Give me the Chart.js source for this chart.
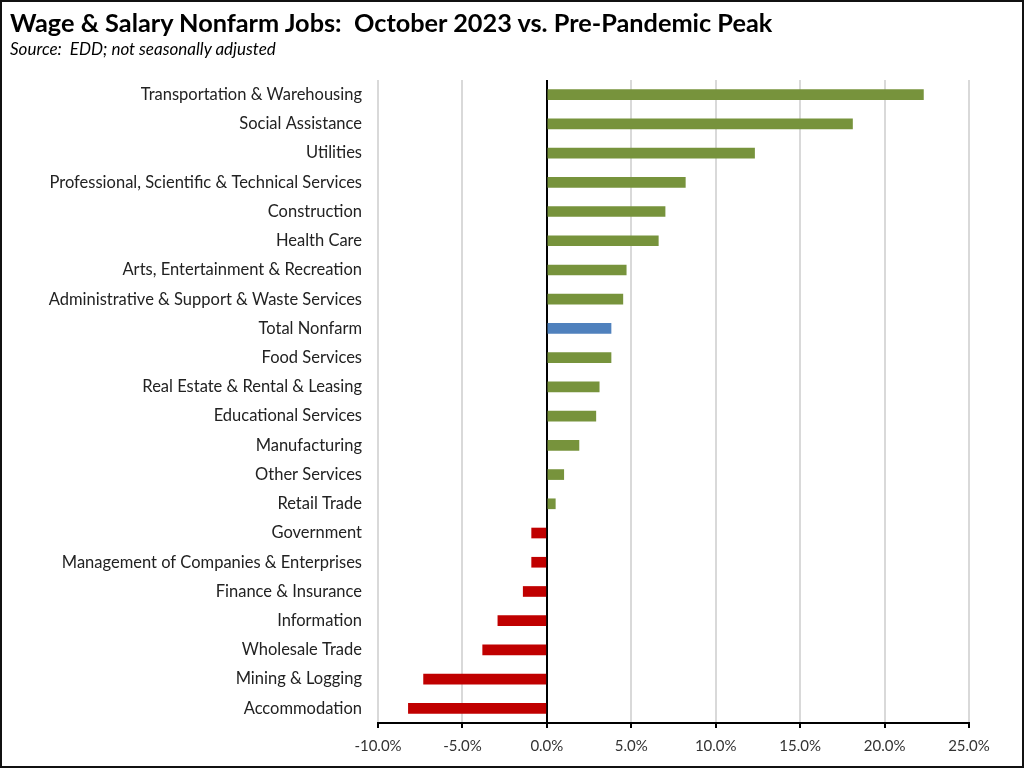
<!DOCTYPE html>
<html>
<head>
<meta charset="utf-8">
<script src="https://cdn.jsdelivr.net/npm/chart.js@4.4.0/dist/chart.umd.min.js"></script>
<style>
  html, body { margin: 0; padding: 0; background: #fff; }
  #wrap { position: relative; width: 1024px; height: 768px; overflow: hidden; }
  #frame { position: absolute; left: 0; top: 0; width: 1024px; height: 768px; box-sizing: border-box; border: 2px solid #111; pointer-events: none; }
  #title { position: absolute; left: 10px; top: 7px; font-family: Lato, sans-serif; font-weight: bold; font-size: 25.3px; color: #000; white-space: pre; }
  #subtitle { position: absolute; left: 10px; top: 38px; font-family: Lato, sans-serif; font-style: italic; font-size: 17px; color: #000; white-space: pre; }
</style>
</head>
<body>
<div id="wrap">
  <canvas id="chart" width="1024" height="768"></canvas>
  <div id="title">Wage &amp; Salary Nonfarm Jobs:  October 2023 vs. Pre-Pandemic Peak</div>
  <div id="subtitle">Source:  EDD; not seasonally adjusted</div>
  <div id="frame"></div>
</div>
<script>
// Industries, top to bottom
const categories = [
    'Transportation & Warehousing',
    'Social Assistance',
    'Utilities',
    'Professional, Scientific & Technical Services',
    'Construction',
    'Health Care',
    'Arts, Entertainment & Recreation',
    'Administrative & Support & Waste Services',
    'Total Nonfarm',
    'Food Services',
    'Real Estate & Rental & Leasing',
    'Educational Services',
    'Manufacturing',
    'Other Services',
    'Retail Trade',
    'Government',
    'Management of Companies & Enterprises',
    'Finance & Insurance',
    'Information',
    'Wholesale Trade',
    'Mining & Logging',
    'Accommodation'
];

// % change, October 2023 vs. pre-pandemic peak
const changePct = [
    22.3, 18.1, 12.3, 8.2, 7.0, 6.6, 4.7, 4.5, 3.8, 3.8, 3.1,
    2.9, 1.9, 1.0, 0.5, -0.9, -0.9, -1.4, -2.9, -3.8, -7.3, -8.2
];

// x axis tick values (percent)
const xTicks = [-10, -5, 0, 5, 10, 15, 20, 25];

const TOTAL_LABEL = 'Total Nonfarm';
const GREEN = '#77933C';
const RED = '#C00000';
const BLUE = '#4F81BD';

document.addEventListener('DOMContentLoaded', function() {
    const ctx = document.getElementById('chart').getContext('2d');

    new Chart(ctx, {
        type: 'bar',
        data: {
            labels: categories,
            datasets: [{
                data: changePct,
                backgroundColor: function(c) {
                    if (categories[c.dataIndex] === TOTAL_LABEL) return BLUE;
                    return c.raw < 0 ? RED : GREEN;
                },
                borderWidth: 0,
                barThickness: 10
            }]
        },
        options: {
            indexAxis: 'y',
            responsive: false,
            animation: false,
            layout: {
                padding: { top: 80, right: 55, left: 0, bottom: 0 }
            },
            plugins: {
                legend: { display: false },
                tooltip: { enabled: false }
            },
            scales: {
                x: {
                    min: xTicks[0],
                    max: xTicks[xTicks.length - 1],
                    afterBuildTicks: function(scale) {
                        scale.ticks = xTicks.map(v => ({ value: v }));
                    },
                    afterFit: function(scale) {
                        scale.height = 45;
                    },
                    grid: {
                        color: function(c) {
                            return c.tick && c.tick.value === 0 ? '#000' : '#D9D9D9';
                        },
                        lineWidth: 2,
                        tickColor: '#000',
                        tickWidth: 2,
                        tickLength: 5
                    },
                    border: { display: true, color: '#000', width: 2 },
                    ticks: {
                        padding: 9,
                        color: '#333',
                        font: { family: 'Lato', size: 15 },
                        callback: function(value) {
                            return value.toFixed(1) + '%';
                        }
                    }
                },
                y: {
                    afterFit: function(scale) {
                        scale.width = 378;
                    },
                    grid: { display: false, drawTicks: false },
                    border: { display: false },
                    ticks: {
                        padding: 16,
                        color: '#222',
                        font: { family: 'Lato', size: 16.5 },
                        autoSkip: false
                    }
                }
            }
        }
    });
});
</script>
</body>
</html>
